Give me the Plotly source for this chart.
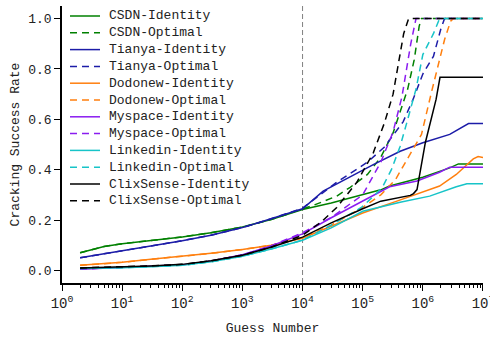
import plotly.graph_objects as go

# ---------------- data ----------------
low_guesses = [2, 3, 5, 10, 30, 100, 300, 1000, 3000, 10000]

csdn_id_x = low_guesses + [3e4, 1e5, 2e5, 2.8e5, 1e6, 2.8e6, 3.9e6, 1e7]
csdn_id_y = [0.070, 0.082, 0.095, 0.106, 0.118, 0.133, 0.150, 0.172, 0.202, 0.242,
             0.268, 0.300, 0.320, 0.335, 0.370, 0.407, 0.423, 0.423]
csdn_op_x = low_guesses + [1.5e4, 3.7e4, 6.2e4, 1.2e5, 2e5, 3.2e5, 4.6e5, 5.6e5, 7.2e5, 8.7e5, 9.5e5, 1e7]
csdn_op_y = [0.070, 0.082, 0.095, 0.106, 0.118, 0.133, 0.150, 0.172, 0.202, 0.245,
             0.258, 0.295, 0.330, 0.381, 0.450, 0.546, 0.659, 0.720, 0.837, 0.970, 1.0, 1.0]

tianya_id_x = low_guesses + [2.2e4, 9e4, 1.5e5, 4.2e5, 1e6, 2.8e6, 5.75e6, 1e7]
tianya_id_y = [0.050, 0.057, 0.066, 0.080, 0.098, 0.118, 0.140, 0.170, 0.205, 0.245,
               0.315, 0.394, 0.420, 0.473, 0.507, 0.540, 0.583, 0.583]
tianya_op_x = low_guesses + [3.7e4, 6.2e4, 1.2e5, 2.3e5, 4.7e5, 6.9e5, 1e6, 1.5e6, 2e6, 2.3e6, 1e7]
tianya_op_y = [0.050, 0.057, 0.066, 0.080, 0.098, 0.118, 0.140, 0.170, 0.205, 0.247,
               0.350, 0.385, 0.430, 0.490, 0.590, 0.680, 0.780, 0.850, 0.960, 1.0, 1.0]

dodonew_id_x = low_guesses + [3e4, 1e5, 3.7e5, 1.9e6, 3.6e6, 6.9e6, 8.3e6, 1e7]
dodonew_id_y = [0.020, 0.023, 0.027, 0.032, 0.044, 0.055, 0.068, 0.083, 0.100, 0.128,
                0.175, 0.228, 0.275, 0.335, 0.381, 0.443, 0.452, 0.448]
dodonew_op_x = low_guesses + [3e4, 1e5, 2e5, 3.5e5, 6.2e5, 9.5e5, 1.4e6, 2.3e6, 2.9e6, 3.2e6, 1e7]
dodonew_op_y = [0.020, 0.023, 0.027, 0.032, 0.044, 0.055, 0.068, 0.083, 0.100, 0.130,
                0.180, 0.250, 0.300, 0.360, 0.460, 0.540, 0.710, 0.917, 0.990, 1.0, 1.0]

myspace_id_x = low_guesses + [3e4, 1e5, 2.8e5, 8e5, 1.9e6, 2.8e6, 1e7]
myspace_id_y = [0.005, 0.007, 0.009, 0.012, 0.016, 0.022, 0.037, 0.062, 0.097, 0.145,
                0.209, 0.275, 0.332, 0.355, 0.390, 0.410, 0.410]
myspace_op_x = low_guesses + [3e4, 1e5, 2e5, 3.2e5, 4.5e5, 6.3e5, 7.7e5, 1e7]
myspace_op_y = [0.005, 0.007, 0.009, 0.012, 0.016, 0.022, 0.037, 0.062, 0.097, 0.150,
                0.210, 0.300, 0.430, 0.550, 0.690, 0.900, 1.0, 1.0]

linkedin_id_x = low_guesses + [3e4, 1e5, 4.2e5, 1.3e6, 3.6e6, 5.4e6, 1e7]
linkedin_id_y = [0.008, 0.008, 0.009, 0.011, 0.015, 0.020, 0.034, 0.056, 0.085, 0.120,
                 0.169, 0.235, 0.271, 0.295, 0.332, 0.344, 0.344]
linkedin_op_x = low_guesses + [3e4, 9.5e4, 1.3e5, 2.1e5, 3e5, 4.2e5, 5.4e5, 7.7e5, 1e6, 1.5e6, 1.9e6, 1e7]
linkedin_op_y = [0.008, 0.008, 0.009, 0.011, 0.015, 0.020, 0.034, 0.056, 0.085, 0.120,
                 0.180, 0.250, 0.280, 0.328, 0.400, 0.493, 0.586, 0.720, 0.857, 0.940, 1.0, 1.0]

clix_id_x = low_guesses + [3e4, 1e5, 2e5, 6.2e5, 7e5, 8e5, 8.4e5, 1.1e6, 1.66e6, 1.93e6, 1e7]
clix_id_y = [0.010, 0.011, 0.012, 0.014, 0.018, 0.024, 0.038, 0.060, 0.092, 0.132,
             0.189, 0.245, 0.275, 0.298, 0.305, 0.321, 0.348, 0.507, 0.679, 0.767, 0.767]
clix_op_x = low_guesses + [2e4, 3.7e4, 8e4, 1.5e5, 2.3e5, 3.2e5, 3.9e5, 4.8e5, 5.8e5, 1e7]
clix_op_y = [0.010, 0.011, 0.012, 0.014, 0.018, 0.024, 0.038, 0.060, 0.092, 0.140,
             0.190, 0.250, 0.350, 0.467, 0.586, 0.700, 0.810, 0.940, 1.0, 1.0]

series_names = ["CSDN-Identity", "CSDN-Optimal", "Tianya-Identity", "Tianya-Optimal",
                "Dodonew-Identity", "Dodonew-Optimal", "Myspace-Identity", "Myspace-Optimal",
                "Linkedin-Identity", "Linkedin-Optimal", "ClixSense-Identity", "ClixSense-Optimal"]
series_x = [csdn_id_x, csdn_op_x, tianya_id_x, tianya_op_x, dodonew_id_x, dodonew_op_x,
            myspace_id_x, myspace_op_x, linkedin_id_x, linkedin_op_x, clix_id_x, clix_op_x]
series_y = [csdn_id_y, csdn_op_y, tianya_id_y, tianya_op_y, dodonew_id_y, dodonew_op_y,
            myspace_id_y, myspace_op_y, linkedin_id_y, linkedin_op_y, clix_id_y, clix_op_y]

reference_guess = 1e4
x_tick_vals = [1, 10, 100, 1e3, 1e4, 1e5, 1e6, 1e7]
x_tick_labels = ["10<sup>0</sup>", "10<sup>1</sup>", "10<sup>2</sup>", "10<sup>3</sup>",
                 "10<sup>4</sup>", "10<sup>5</sup>", "10<sup>6</sup>", "10<sup>7</sup>"]
y_ticks = [0.0, 0.2, 0.4, 0.6, 0.8, 1.0]

# ---------------- styling ----------------
colors = {"CSDN": "#008000", "Tianya": "#1c1ca8", "Dodonew": "#ff7f0e",
          "Myspace": "#8a1cf0", "Linkedin": "#17c4c8", "ClixSense": "#000000"}
DASH = "7px,5px"
FONT = "Liberation Mono, DejaVu Sans Mono, monospace"
W, H = 490, 341
ML, MR, MT, MB = 62, 7, 6, 58
PW, PH = W - ML - MR, H - MT - MB


def px_to_paper(px, py):
    return (px - ML) / PW, (H - MB - py) / PH


fig = go.Figure()
shapes, annotations = [], []
for i, (name, xs, ys) in enumerate(zip(series_names, series_x, series_y)):
    color = colors[name.split("-")[0]]
    dash = DASH if name.endswith("Optimal") else "solid"
    fig.add_trace(go.Scatter(x=xs, y=ys, mode="lines", name=name, showlegend=False,
                             line=dict(color=color, width=1.5, dash=dash)))
    # manual legend entry (compact spacing like the reference)
    row_y = 16 + i * 16.8
    x0, y0 = px_to_paper(70, row_y)
    x1, _ = px_to_paper(100, row_y)
    shapes.append(dict(type="line", xref="paper", yref="paper", x0=x0, x1=x1, y0=y0, y1=y0,
                       line=dict(color=color, width=1.5, dash=dash)))
    tx, ty = px_to_paper(107, row_y)
    annotations.append(dict(xref="paper", yref="paper", x=tx, y=ty, xanchor="left", yanchor="middle",
                            text=name, showarrow=False,
                            font=dict(family=FONT, size=13, color="#222")))

shapes.append(dict(type="line", xref="x", yref="paper", x0=reference_guess, x1=reference_guess,
                   y0=0, y1=1, line=dict(color="#808080", width=1, dash="5px,3px"), layer="below"))

fig.update_layout(
    width=W, height=H,
    margin=dict(l=ML, r=MR, t=MT, b=MB),
    paper_bgcolor="white", plot_bgcolor="white",
    font=dict(family=FONT, size=13, color="#222"),
    showlegend=False,
    shapes=shapes, annotations=annotations,
    xaxis=dict(type="log", range=[0, 7.0005], tickvals=x_tick_vals, ticktext=x_tick_labels,
               ticklabeloverflow="allow",
               showline=True, linecolor="black", linewidth=1.5,
               ticks="outside", ticklen=6, tickwidth=1.2, tickcolor="black",
               minor=dict(ticks="outside", ticklen=3, tickwidth=1, tickcolor="black", dtick="D1", showgrid=False),
               showgrid=False, zeroline=False, automargin=False,
               title=dict(text="Guess Number", font=dict(family=FONT, size=13), standoff=12),
               tickfont=dict(family=FONT, size=14, color="#222")),
    yaxis=dict(range=[-0.05, 1.05], tickvals=y_ticks, tickformat=".1f",
               showline=True, linecolor="black", linewidth=1.5,
               ticks="outside", ticklen=6, tickwidth=1.2, tickcolor="black",
               showgrid=False, zeroline=False, automargin=False,
               title=dict(text="Cracking Success Rate", font=dict(family=FONT, size=13), standoff=6),
               tickfont=dict(family=FONT, size=13, color="#222")),
)

fig.write_html("out.html", config={"displayModeBar": False},
               post_script="document.body.style.margin='0';")
